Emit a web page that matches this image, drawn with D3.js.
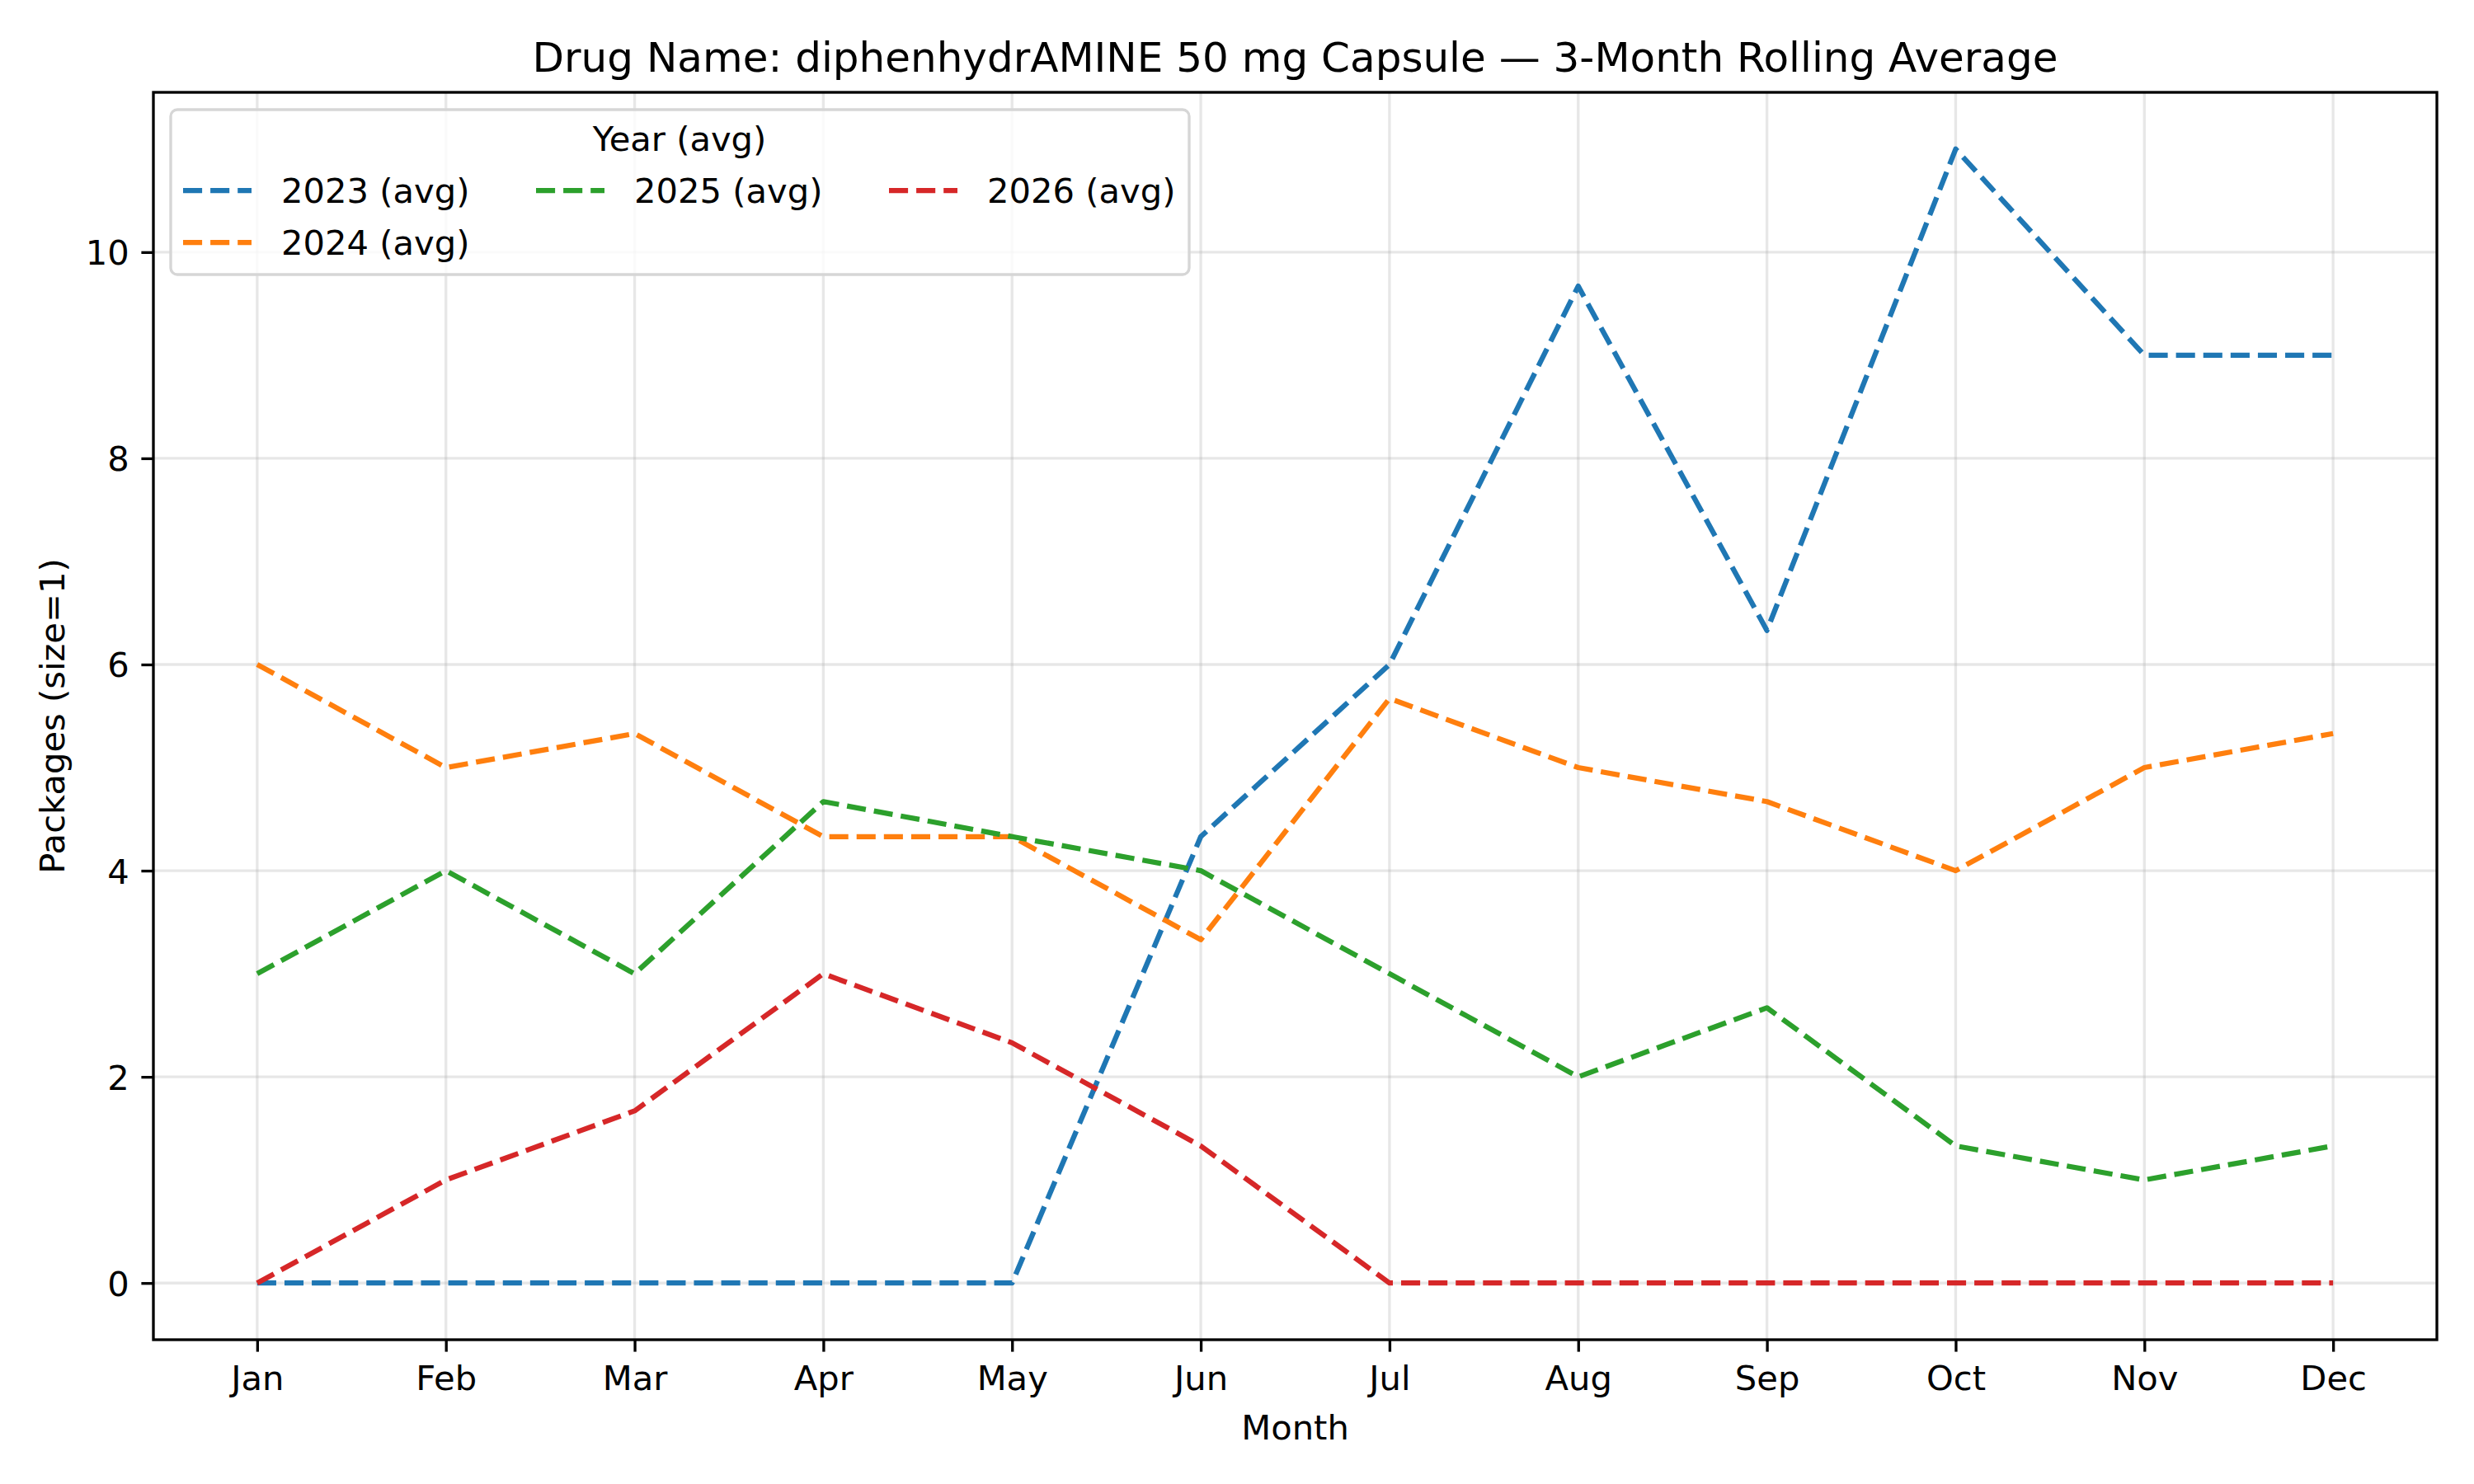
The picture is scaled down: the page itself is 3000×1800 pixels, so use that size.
<!DOCTYPE html>
<meta charset="utf-8">
<script src="https://d3js.org/d3.v7.min.js"></script>
<style>
  body { margin: 0; background: #fff; }
  text { font-family: "DejaVu Sans", sans-serif; fill: #000; }
</style>
<div id="chart"></div>
<script>

// data
const months = ["Jan", "Feb", "Mar", "Apr", "May", "Jun", "Jul", "Aug", "Sep", "Oct", "Nov", "Dec"];
const years = ["2023", "2024", "2025", "2026"];
const avg2023 = [0, 0, 0, 0, 0, 4.33, 6, 9.67, 6.33, 11, 9, 9];
const avg2024 = [6, 5, 5.33, 4.33, 4.33, 3.33, 5.67, 5, 4.67, 4, 5, 5.33];
const avg2025 = [3, 4, 3, 4.67, 4.33, 4, 3, 2, 2.67, 1.33, 1, 1.33];
const avg2026 = [0, 1, 1.67, 3, 2.33, 1.33, 0, 0, 0, 0, 0, 0];
const yTicks = [0, 2, 4, 6, 8, 10];
const colors = ["#1f77b4", "#ff7f0e", "#2ca02c", "#d62728"];

const seriesList = [avg2023, avg2024, avg2025, avg2026].map((vals, i) => ({
  name: years[i] + " (avg)", values: vals, color: colors[i]
}));

// matplotlib 10x6in @ 300dpi
const W = 3000, H = 1800;
const margin = {top: 112, right: 45, bottom: 175, left: 186};
const width = W - margin.left - margin.right,
      height = H - margin.top - margin.bottom;

const fs = 41.67;     // 10pt
const lw = 3.33;      // 0.8pt

const svg = d3.select("#chart").append("svg")
    .attr("width", W)
    .attr("height", H);

const g = svg.append("g")
    .attr("transform", `translate(${margin.left}, ${margin.top})`);

// scales (5% margins like matplotlib)
const x = d3.scaleLinear().domain([-0.55, 11.55]).range([0, width]);
const y = d3.scaleLinear().domain([-0.55, 11.55]).range([height, 0]);

// grid
g.append("g").selectAll("line")
  .data(d3.range(12))
  .join("line")
    .attr("x1", d => x(d)).attr("x2", d => x(d))
    .attr("y1", 0).attr("y2", height)
    .style("stroke", "#b0b0b0").style("stroke-opacity", 0.3).style("stroke-width", lw);
g.append("g").selectAll("line")
  .data(yTicks)
  .join("line")
    .attr("x1", 0).attr("x2", width)
    .attr("y1", d => y(d)).attr("y2", d => y(d))
    .style("stroke", "#b0b0b0").style("stroke-opacity", 0.3).style("stroke-width", lw);

// lines
const line = d3.line()
  .x((d, i) => x(i))
  .y(d => y(d));

g.append("g").selectAll("path")
  .data(seriesList)
  .join("path")
    .attr("d", d => line(d.values))
    .style("fill", "none")
    .style("stroke", d => d.color)
    .style("stroke-width", 6.25)
    .style("stroke-dasharray", "23.1,10")
    .style("stroke-linecap", "butt")
    .style("stroke-linejoin", "round");

// axes
const xAxis = g.append("g")
  .attr("transform", `translate(0, ${height})`)
  .call(d3.axisBottom(x).tickValues(d3.range(12)).tickFormat(i => months[i])
        .tickSize(14.6).tickPadding(14.6).tickSizeOuter(0));
const yAxis = g.append("g")
  .call(d3.axisLeft(y).tickValues(yTicks).tickSize(14.6).tickPadding(14.6).tickSizeOuter(0));

[xAxis, yAxis].forEach(ax => {
  ax.select(".domain").remove();
  ax.selectAll(".tick line").style("stroke", "#000").style("stroke-width", lw);
  ax.selectAll(".tick text")
    .style("font-family", "DejaVu Sans")
    .style("font-size", fs + "px");
});
xAxis.selectAll(".tick text").attr("dy", "0.76em");
yAxis.selectAll(".tick text").attr("dy", "0.36em");

// frame
g.append("rect")
  .attr("x", 0).attr("y", 0)
  .attr("width", width).attr("height", height)
  .style("fill", "none").style("stroke", "#000").style("stroke-width", lw);

// titles
svg.append("text")
  .attr("x", margin.left + width / 2)
  .attr("y", 87)
  .attr("text-anchor", "middle")
  .style("font-size", "50px")
  .text("Drug Name: diphenhydrAMINE 50 mg Capsule \u2014 3-Month Rolling Average");

svg.append("text")
  .attr("x", margin.left + width / 2)
  .attr("y", 1746)
  .attr("text-anchor", "middle")
  .style("font-size", fs + "px")
  .text("Month");

svg.append("text")
  .attr("transform", `translate(63, ${margin.top + height / 2}) rotate(-90)`)
  .attr("text-anchor", "middle")
  .attr("dominant-baseline", "central")
  .style("font-size", fs + "px")
  .text("Packages (size=1)");

// legend (ncol=3, column-major order like matplotlib)
const legend = svg.append("g");
legend.append("rect")
  .attr("x", 207).attr("y", 133)
  .attr("width", 1235).attr("height", 200)
  .attr("rx", 8)
  .style("fill", "#fff").style("fill-opacity", 0.8)
  .style("stroke", "#d6d6d6").style("stroke-width", lw);

legend.append("text")
  .attr("x", 824).attr("y", 183)
  .attr("text-anchor", "middle")
  .style("font-size", fs + "px")
  .text("Year (avg)");

const colX = [222, 650, 1078];
const rowY = [231, 294];
const slots = [[0, 0], [0, 1], [1, 0], [2, 0]];
const items = legend.selectAll("g.item")
  .data(seriesList)
  .join("g")
    .attr("class", "item")
    .attr("transform", (d, i) => `translate(${colX[slots[i][0]]}, ${rowY[slots[i][1]]})`);
items.append("line")
  .attr("x1", 0).attr("x2", 83)
  .attr("y1", 0).attr("y2", 0)
  .style("stroke", d => d.color)
  .style("stroke-width", 6.25)
  .style("stroke-dasharray", "23.1,10");
items.append("text")
  .attr("x", 119)
  .attr("y", 15)
  .style("font-size", fs + "px")
  .text(d => d.name);

</script>
